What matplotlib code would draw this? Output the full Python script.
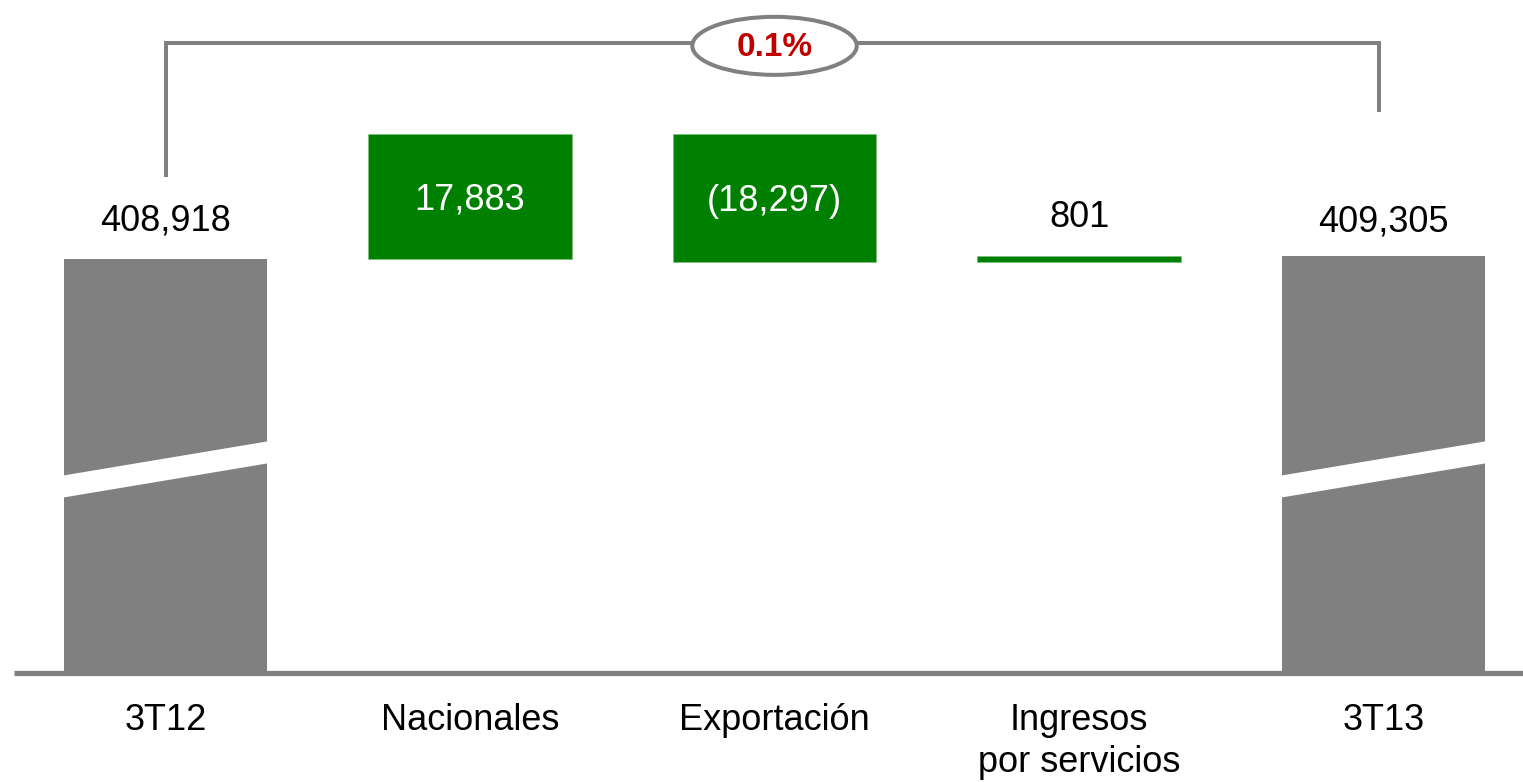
import matplotlib
matplotlib.use("Agg")
import matplotlib.pyplot as plt
from matplotlib.patches import Ellipse, Polygon
import numpy as np

plt.rcParams['font.family'] = ['Liberation Sans', 'DejaVu Sans']

#-----------------------------------
categories = ['3T12', 'Nacionales', 'Exportación', 'Ingresos\npor servicios', '3T13']
start_val = 408918
changes = [17883, -18297, 801]
end_val = 409305
change_labels = ['17,883', '(18,297)', '801']
total_labels = ['408,918', '409,305']
growth_label = '0.1%'
#-----------------------------------

GRAY = '#808080'
GREEN = '#008000'
RED = '#C00000'
floor = 350000          # where the (broken) value axis starts
bar_w = 0.667

f = plt.figure(figsize=(15.23, 7.82), dpi=100)
ax = f.add_axes([0, 0, 1, 1])
ax.set_xlim(-0.5435, 4.458)
ax.set_ylim(334129, 445955)
ax.axis('off')

x = np.arange(len(categories))

# totals
totals = [start_val, end_val]
tx = [x[0], x[-1]]
ax.bar(tx, [t - floor for t in totals], bottom=floor, width=bar_w, color=GRAY, zorder=2)

# changes (floating)
level = start_val
bottoms, heights = [], []
for c in changes:
    bottoms.append(min(level, level + c))
    heights.append(abs(c))
    level += c
ax.bar(x[1:-1], heights, bottom=bottoms, width=bar_w, color=GREEN,
       edgecolor='#7fbf7f', linewidth=0.6, zorder=2)

# axis-break stripes on the total bars
brk = 374750
rise = 5000
gap = 3150
for xi in tx:
    x0, x1 = xi - bar_w / 2 - 0.01, xi + bar_w / 2 + 0.01
    poly = Polygon([(x0, brk), (x1, brk + rise), (x1, brk + rise + gap), (x0, brk + gap)],
                   closed=True, facecolor='white', edgecolor='none', zorder=3)
    ax.add_patch(poly)

# baseline
ax.plot([-0.498, 4.458], [floor - 250, floor - 250], color=GRAY, lw=3.8,
        solid_capstyle='butt', zorder=4)

# value labels
for xi, t, lab, off in zip(tx, totals, total_labels, [15, 12]):
    ax.annotate(lab, (xi, t), xytext=(0, off), textcoords='offset points',
                ha='center', va='bottom', fontsize=26, color='black')
for i, (b, h, lab) in enumerate(zip(bottoms, heights, change_labels)):
    if h > 3000:
        ax.text(x[i + 1], b + h / 2 - 500, lab, ha='center', va='center',
                fontsize=26, color='white', zorder=5)
    else:
        ax.annotate(lab, (x[i + 1], b + h), xytext=(0, 15), textcoords='offset points',
                    ha='center', va='bottom', fontsize=26, color='black')

# category labels
for xi, lab in zip(x, categories):
    ax.annotate(lab, (xi, floor), xytext=(0, -23), textcoords='offset points',
                ha='center', va='top', fontsize=26, color='black', linespacing=1.25)

# growth bracket
y_top = 439800
ax.plot([x[0], x[0], x[-1] - 0.015, x[-1] - 0.015], [420900, y_top, y_top, 430200],
        color=GRAY, lw=2.9, solid_joinstyle='miter', zorder=2)
ell = Ellipse((2, 439400), width=0.54, height=8300, facecolor='white',
              edgecolor=GRAY, lw=2.9, zorder=3)
ax.add_patch(ell)
ax.text(2, 439200, growth_label, ha='center', va='center', fontsize=24,
        fontweight='bold', color=RED, zorder=4)

f.savefig('out.png', dpi=100)
